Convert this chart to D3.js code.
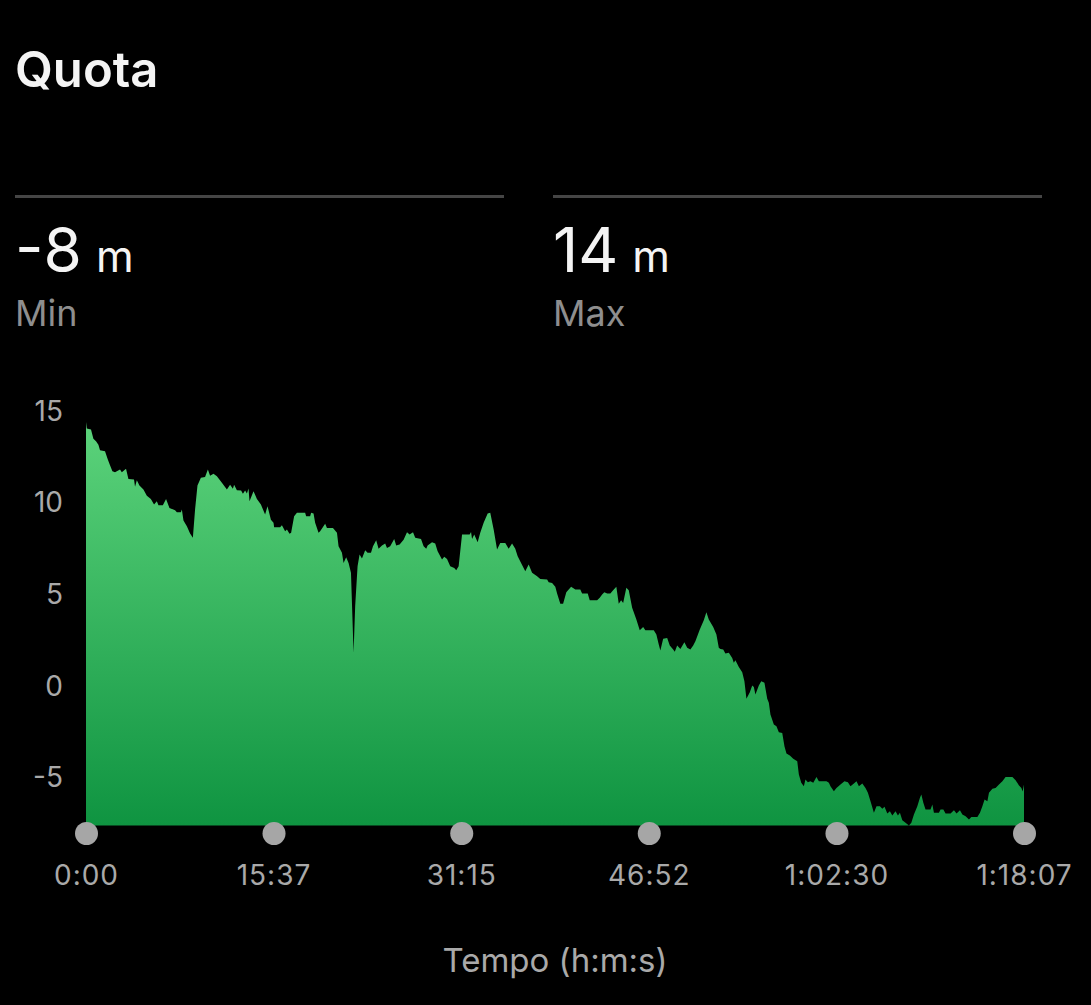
<!DOCTYPE html>
<html>
<head>
<meta charset="utf-8">
<script src="https://cdn.jsdelivr.net/npm/d3@7"></script>
<style>
  html, body { margin: 0; padding: 0; background: #000; }
  svg { display: block; }
  text { font-family: Inter, "Noto Sans", "DejaVu Sans", sans-serif; }
</style>
</head>
<body>
<svg id="chart" width="1091" height="1005"></svg>
<script>
// ---- Data ----
const title = "Quota";
const unit = "m";
const xAxisTitle = "Tempo (h:m:s)";
const statLabels = ["Min", "Max"];

const timeSec = [
  0,4,25,37,50,62,70,95,109,120,132,145,170,179,200,212,240,245,254,267,287,304,324,340,354,362,384,400,417,445,454,474,479,487,504,520,534,545,557,574,595,609,620,637,654,679,704,720,734,740,754,775,784,795,804,812,817,837,854,874,895,907,924,937,940,970,979,995,1004,1017,1025,1040,1054,1095,1100,1120,1125,1137,1145,1162,1170,1195,1204,1234,1254,1262,1279,1287,1300,1312,1324,1337,1345,1357,1367,1379,1395,1407,1424,1434,1450,1462,1479,1495,1504,1520,1540,1550,1567,1587,1604,1617,1634,1645,1674,1687,1700,1707,1729,1745,1757,1779,1790,1804,1820,1840,1850,1862,1879,1917,1924,1929,1940,1957,1970,1987,2007,2020,2037,2054,2070,2095,2112,2129,2145,2157,2174,2195,2212,2229,2254,2270,2304,2312,2329,2345,2354,2370,2384,2400,2424,2445,2470,2479,2507,2517,2554,2567,2579,2590,2604,2620,2634,2650,2662,2674,2684,2700,2712,2729,2750,2767,2784,2795,2837,2850,2862,2870,2884,2904,2917,2934,2942,2954,2970,2990,3004,3020,3034,3045,3067,3087,3100,3112,3134,3150,3162,3170,3184,3195,3212,3229,3237,3245,3262,3279,3290,3300,3317,3329,3337,3345,3362,3374,3390,3404,3412,3420,3437,3450,3462,3479,3490,3500,3517,3534,3554,3562,3574,3587,3595,3607,3620,3634,3650,3662,3700,3712,3720,3737,3750,3770,3790,3807,3820,3837,3850,3862,3879,3895,3907,3920,3937,3950,3967,3979,3990,4004,4017,4029,4045,4057,4067,4079,4095,4112,4124,4137,4154,4167,4174,4184,4195,4220,4229,4237,4262,4270,4284,4295,4320,4337,4350,4367,4379,4395,4412,4424,4454,4467,4479,4490,4504,4512,4529,4545,4562,4579,4595,4629,4645,4662,4674,4680,4687
];
const elevation = [
  14.35,13.99,13.93,13.43,13.29,13.11,12.80,12.75,12.30,11.99,11.66,11.60,11.75,11.60,11.79,11.24,11.21,10.81,11.17,10.88,10.66,10.33,10.15,9.84,10.02,9.80,9.80,10.15,9.66,9.53,9.42,9.42,9.57,8.97,8.66,8.26,8.03,9.57,10.88,11.30,11.35,11.75,11.42,11.53,11.39,11.03,10.66,10.93,10.70,10.93,10.62,10.61,10.43,10.61,10.44,10.72,10.02,10.57,10.15,9.84,9.30,9.75,9.02,8.85,8.61,8.61,8.71,8.39,8.48,8.25,8.30,9.20,9.39,9.39,9.20,9.20,9.39,9.35,8.85,8.30,8.39,8.79,8.57,8.57,8.30,7.57,7.21,6.66,6.97,6.66,6.12,1.76,4.30,6.48,7.12,6.90,7.35,7.21,7.21,7.57,7.90,7.43,7.61,7.72,7.48,7.57,7.97,7.61,7.66,7.93,8.33,8.21,8.33,8.03,7.97,7.57,7.43,7.61,7.79,7.72,7.30,6.84,6.99,6.88,6.48,6.39,6.26,6.48,8.21,8.21,8.35,7.97,8.21,7.79,8.30,8.85,9.35,9.39,8.48,7.39,7.75,7.75,7.43,7.72,7.43,7.02,6.66,6.21,6.57,6.12,5.93,5.79,5.75,5.61,5.57,5.36,4.99,4.43,4.43,5.06,5.36,5.21,5.21,4.99,4.99,4.62,4.62,4.76,4.94,5.06,4.99,4.99,5.17,5.36,4.43,4.62,4.48,5.30,5.17,4.21,3.57,2.99,3.17,2.99,2.99,2.75,2.21,1.88,2.52,2.57,2.15,1.94,1.81,2.15,1.97,2.33,2.03,1.94,2.15,2.39,3.03,3.53,3.97,3.57,3.17,2.75,2.03,1.97,1.94,1.72,1.76,1.48,1.21,1.35,0.99,0.70,0.21,-0.75,-0.39,-0.03,-0.10,-0.52,-0.03,0.21,0.12,-0.75,-0.97,-1.61,-2.15,-2.25,-2.57,-2.61,-3.34,-3.74,-3.84,-4.02,-4.16,-4.88,-5.33,-5.52,-5.15,-5.30,-5.25,-5.33,-5.01,-5.25,-5.25,-5.33,-5.52,-5.79,-5.61,-5.43,-5.25,-5.30,-5.52,-5.37,-5.25,-5.52,-5.37,-5.61,-5.88,-6.34,-6.97,-6.61,-6.61,-6.75,-6.64,-7.01,-6.88,-7.12,-6.88,-7.12,-6.97,-7.37,-7.51,-7.66,-7.51,-7.06,-6.61,-6.15,-5.97,-6.42,-6.79,-6.79,-6.52,-6.97,-6.97,-6.79,-6.79,-7.01,-7.01,-6.83,-7.01,-6.83,-7.06,-7.15,-7.33,-7.19,-7.19,-6.97,-6.61,-6.24,-6.34,-5.88,-5.66,-5.61,-5.43,-5.25,-5.01,-5.01,-5.19,-5.48,-5.61,-5.80,-5.43
];

const xTickValues = [0, 937, 1875, 2812, 3750, 4687];
const xTickLabels = ["0:00", "15:37", "31:15", "46:52", "1:02:30", "1:18:07"];
const yTickValues = [15, 10, 5, 0, -5];

// ---- Drawing ----
const svg = d3.select("#chart");
svg.append("rect").attr("width", 1091).attr("height", 1005).attr("fill", "#000");

const data = timeSec.map((t, i) => ({ t, v: elevation[i] }));
const yMin = d3.min(elevation);
const yMax = d3.max(elevation);

const x = d3.scaleLinear().domain([0, d3.max(timeSec)]).range([86, 1024]);
const y = d3.scaleLinear().domain([yMin, 15]).range([825.5, 410]);

// Title
svg.append("text")
  .attr("x", 15).attr("y", 87)
  .attr("fill", "#f4f4f4")
  .attr("font-size", 49).attr("font-weight", 600)
  .text(title);

// Stats
const stats = [
  { label: statLabels[0], value: Math.round(yMin), x: 15, x2: 504 },
  { label: statLabels[1], value: Math.round(yMax), x: 553, x2: 1042 }
];
const sg = svg.selectAll("g.stat").data(stats).join("g").attr("class", "stat");
sg.append("line")
  .attr("x1", d => d.x).attr("x2", d => d.x2)
  .attr("y1", 196.5).attr("y2", 196.5)
  .attr("stroke", "#454545").attr("stroke-width", 3);
const vt = sg.append("text")
  .attr("x", d => d.x).attr("y", 272)
  .attr("fill", "#f4f4f4");
vt.append("tspan").attr("font-size", 62).attr("font-weight", 400).text(d => String(d.value));
vt.append("tspan").attr("dx", 14).attr("font-size", 43).attr("font-weight", 400).text(unit);
sg.append("text")
  .attr("x", d => d.x).attr("y", 326)
  .attr("fill", "#8e8e8e")
  .attr("font-size", 36).attr("font-weight", 400)
  .text(d => d.label);

// Gradient
const defs = svg.append("defs");
const grad = defs.append("linearGradient")
  .attr("id", "areaGrad")
  .attr("gradientUnits", "userSpaceOnUse")
  .attr("x1", 0).attr("x2", 0)
  .attr("y1", y(yMax)).attr("y2", y(yMin));
grad.append("stop").attr("offset", "0%").attr("stop-color", "#5cd37b");
grad.append("stop").attr("offset", "100%").attr("stop-color", "#0f9441");

// Area
const area = d3.area()
  .x(d => x(d.t))
  .y0(y(yMin))
  .y1(d => y(d.v));
svg.append("path")
  .datum(data)
  .attr("d", area)
  .attr("fill", "url(#areaGrad)");

// Y axis
const yAxis = svg.append("g")
  .attr("transform", "translate(63,0)")
  .call(d3.axisLeft(y).tickValues(yTickValues).tickFormat(d => String(d)).tickSize(0).tickPadding(0));
yAxis.select(".domain").remove();
yAxis.selectAll("text")
  .attr("x", 0).attr("dy", "0.36em")
  .attr("fill", "#a9a9a9")
  .attr("font-size", 28)
  .attr("font-family", "Inter, sans-serif");

// X axis
const xAxis = svg.append("g")
  .attr("transform", "translate(0,833.5)")
  .call(d3.axisBottom(x).tickValues(xTickValues)
    .tickFormat((d, i) => xTickLabels[i]).tickSize(0).tickPadding(0));
xAxis.select(".domain").remove();
xAxis.selectAll(".tick").append("circle")
  .attr("r", 11.5).attr("fill", "#a6a6a6");
xAxis.selectAll("text")
  .attr("y", 41).attr("dy", "0.36em")
  .attr("fill", "#a9a9a9")
  .attr("font-size", 28)
  .attr("letter-spacing", 1)
  .attr("font-family", "Inter, sans-serif");

// X axis title
svg.append("text")
  .attr("x", (x.range()[0] + x.range()[1]) / 2)
  .attr("y", 972)
  .attr("text-anchor", "middle")
  .attr("fill", "#a9a9a9")
  .attr("font-size", 33)
  .text(xAxisTitle);
</script>
</body>
</html>
